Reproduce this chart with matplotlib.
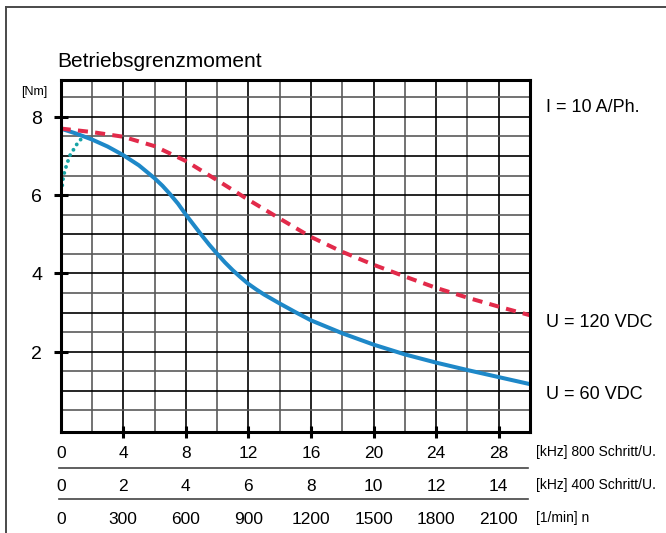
import numpy as np
import matplotlib.pyplot as plt
from matplotlib.lines import Line2D
from matplotlib.transforms import offset_copy

plt.rcParams['font.family'] = ['Liberation Sans', 'DejaVu Sans']

# torque curves, x in kHz (800 Schritt/U.), y in Nm
f_60 = [0, 1, 2, 3, 4, 5, 6, 6.5, 7, 7.5, 8, 8.5, 9, 9.5, 10, 10.5, 11, 11.5, 12, 12.5, 13,
        14, 15, 16, 18, 20, 22, 24, 26, 28, 30]
m_60 = [7.70, 7.57, 7.42, 7.24, 7.02, 6.76, 6.43, 6.24, 6.02, 5.78, 5.50, 5.24, 4.98, 4.73,
        4.50, 4.28, 4.08, 3.90, 3.73, 3.59, 3.46, 3.23, 3.01, 2.80, 2.47, 2.18, 1.93, 1.72,
        1.53, 1.35, 1.17]
f_120 = [0, 2, 4, 6, 8, 10, 12, 14, 16, 18, 20, 22, 24, 26, 28, 30]
m_120 = [7.70, 7.61, 7.49, 7.25, 6.87, 6.38, 5.88, 5.40, 4.93, 4.55, 4.22, 3.92, 3.63, 3.38,
         3.15, 2.93]
f_start = [0.1, 0.16, 0.25, 0.4, 0.6, 0.85, 1.08, 1.3, 1.55]
m_start = [6.25, 6.45, 6.60, 6.80, 7.02, 7.18, 7.33, 7.43, 7.50]

x_ticks = [0, 4, 8, 12, 16, 20, 24, 28]
row_800 = ['0', '4', '8', '12', '16', '20', '24', '28']
row_400 = ['0', '2', '4', '6', '8', '10', '12', '14']
row_rpm = ['0', '300', '600', '900', '1200', '1500', '1800', '2100']
row_units = ['[kHz] 800 Schritt/U.', '[kHz] 400 Schritt/U.', '[1/min] n']
y_ticks = [2, 4, 6, 8]

W, H = 666, 533
fig = plt.figure(figsize=(W / 100, H / 100), dpi=100)
ax = fig.add_axes([60.7 / W, 1 - 432.3 / H, (530 - 60.7) / W, (432.3 - 80) / H])
ax.set_xlim(0, 30)
ax.set_ylim(-0.06, 8.94)

# grid
for gx in np.arange(2, 30, 2):
    ax.axvline(gx, color='black' if gx % 4 == 0 else '#5a5a5a', lw=1.2, zorder=1)
for gy in np.arange(0.5, 8.6, 0.5):
    ax.axhline(gy, color='black' if gy % 1 == 0 else '#5a5a5a', lw=1.2, zorder=1)

ax.plot(f_60, m_60, color='#1e88c8', lw=2.9, solid_capstyle='butt', zorder=2)
ax.plot(f_start, m_start, color='#17a3a6', lw=2.8, linestyle=(0, (0.01, 1.6)),
        dash_capstyle='round', zorder=2.2)
ax.plot(f_120, m_120, color='#e22a4a', lw=2.9, linestyle=(0, (2.5, 1.8)), zorder=2.1)

for s in ax.spines.values():
    s.set_linewidth(2.2)
    s.set_zorder(3)

ax.set_xticks(x_ticks[1:])
ax.set_yticks(y_ticks)
ax.tick_params(axis='x', direction='inout', length=8.4, width=2.2, labelbottom=False)
ax.tick_params(axis='y', direction='inout', length=10, width=2.2, labelleft=False)

# y labels
for v in y_ticks:
    tr = offset_copy(ax.get_yaxis_transform(), fig, x=-18.7, y=-7, units='dots')
    ax.text(0, v, str(v), transform=tr, ha='right', va='baseline', fontsize=14)

# three rows of x labels
row_offsets = [-25.7, -58.7, -91.7]
for off, labels in zip(row_offsets, [row_800, row_400, row_rpm]):
    tr = offset_copy(ax.get_xaxis_transform(), fig, y=off, units='dots')
    for xv, lab in zip(x_ticks, labels):
        ax.text(xv, 0, lab, transform=tr, ha='center', va='baseline', fontsize=12.5)

for off, lab in zip([-23.7, -56.7, -89.7], row_units):
    tr = offset_copy(ax.transAxes, fig, x=6, y=off, units='dots')
    ax.text(1, 0, lab, transform=tr, ha='left', va='baseline', fontsize=10)

for off in [-36, -67]:
    tr = offset_copy(ax.transAxes, fig, y=off, units='dots')
    fig.add_artist(Line2D([-0.003, 0.995], [0, 0], transform=tr, color='#444444', lw=1.2))


def px(x, y):
    return x / W, 1 - y / H


fig.text(*px(57, 67), 'Betriebsgrenzmoment', fontsize=15, va='baseline')
fig.text(*px(21, 95), '[Nm]', fontsize=9, va='baseline')
fig.text(*px(546, 112), 'I = 10 A/Ph.', fontsize=13, va='baseline')
fig.text(*px(546, 327), 'U = 120 VDC', fontsize=13, va='baseline')
fig.text(*px(546, 399), 'U = 60 VDC', fontsize=13, va='baseline')

# outer frame (left and top edges only)
fig.add_artist(Line2D([6 / W, 6 / W], [0, 1 - 7 / H], transform=fig.transFigure,
                      color='#4a4a4a', lw=1.4))
fig.add_artist(Line2D([6 / W, 1], [1 - 7 / H, 1 - 7 / H], transform=fig.transFigure,
                      color='#4a4a4a', lw=1.4))

fig.savefig('out.png', dpi=100)
